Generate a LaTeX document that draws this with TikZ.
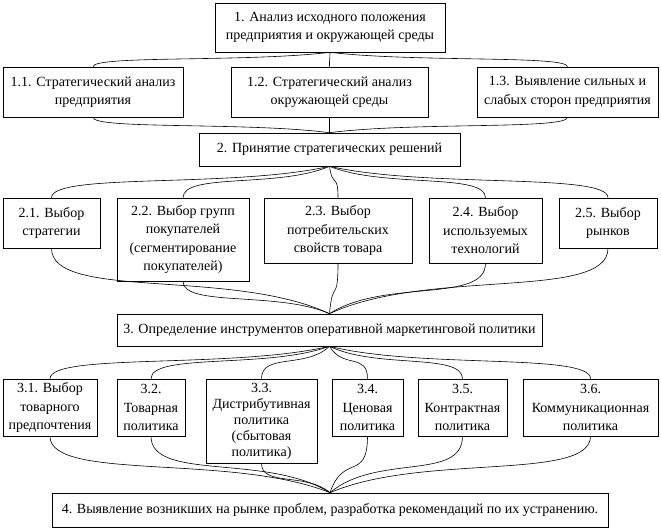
\documentclass[tikz,border=0pt]{standalone}
\usepackage{fontspec}
\setmainfont{Liberation Serif}
\usetikzlibrary{calc}
\tikzset{
  box/.style={draw, line width=0.6pt, align=center, inner sep=0pt,
    font=\fontsize{14}{18.5}\selectfont},
  tightbox/.style={draw, line width=0.6pt, align=center, inner sep=0pt,
    font=\fontsize{14}{16}\selectfont},
  conn/.style={draw, line width=0.6pt}
}
\newcommand\linkcurve[2]{%
  \draw[conn] let \p1=(#1), \p2=(#2) in (\p1) .. controls
    ({\x1+0.35*(\x2-\x1)},{\y1+0.7*(\y2-\y1)}) and
    ({\x2},{\y1+0.2*(\y2-\y1)}) .. (\p2);}
\begin{document}
\begin{tikzpicture}[x=1pt,y=-1pt]
\useasboundingbox (0,0) rectangle (661,530);
% level 1
\node[box, minimum width=230, minimum height=49] (b1) at (330,27.5)
  {1. Анализ исходного положения\\предприятия и окружающей среды};
\node[box, minimum width=180, minimum height=50] (b11) at (93,92)
  {1.1. Стратегический анализ\\предприятия};
\node[box, minimum width=197, minimum height=50] (b12) at (329.5,92)
  {1.2. Стратегический анализ\\окружающей среды};
\node[box, minimum width=181, minimum height=50] (b13) at (567.5,92)
  {1.3. Выявление сильных и\\слабых сторон предприятия};
% level 2
\node[box, minimum width=261, minimum height=33] (b2) at (329.5,149.5)
  {2. Принятие стратегических решений};
\node[box, minimum width=97, minimum height=50] (b21) at (51.5,223)
  {2.1. Выбор\\стратегии};
\node[box, minimum width=132, minimum height=83] (b22) at (183,239.5)
  {2.2. Выбор групп\\покупателей\\(сегментирование\\покупателей)};
\node[box, minimum width=148, minimum height=65] (b23) at (338,230.5)
  {2.3. Выбор\\потребительских\\свойств товара};
\node[box, minimum width=113, minimum height=65] (b24) at (485.5,230.5)
  {2.4. Выбор\\используемых\\технологий};
\node[box, minimum width=98, minimum height=50] (b25) at (608,223)
  {2.5. Выбор\\рынков};
% level 3
\node[box, minimum width=425, minimum height=32] (b3) at (329.5,330)
  {3. Определение инструментов оперативной маркетинговой политики};
\node[box, minimum width=94, minimum height=57] (b31) at (50,407.5)
  {3.1. Выбор\\товарного\\предпочтения};
\node[box, minimum width=68, minimum height=57] (b32) at (151,407.5)
  {3.2.\\Товарная\\политика};
\node[tightbox, minimum width=111, minimum height=84] (b33) at (261.5,421)
  {3.3.\\Дистрибутивная\\политика\\(сбытовая\\политика)};
\node[box, minimum width=71, minimum height=57] (b34) at (367.5,407.5)
  {3.4.\\Ценовая\\политика};
\node[box, minimum width=89, minimum height=57] (b35) at (462.5,407.5)
  {3.5.\\Контрактная\\политика};
\node[box, minimum width=135, minimum height=57] (b36) at (590.5,407.5)
  {3.6.\\Коммуникационная\\политика};
% level 4
\node[box, minimum width=556, minimum height=34] (b4) at (330,510)
  {4. Выявление возникших на рынке проблем, разработка рекомендаций по их устранению.};
% connectors
\foreach \t in {b11,b12,b13} {\linkcurve{b1.south}{\t.north}\linkcurve{b2.north}{\t.south}}
\foreach \t in {b21,b22,b23,b24,b25} {\linkcurve{b2.south}{\t.north}\linkcurve{b3.north}{\t.south}}
\foreach \t in {b31,b32,b33,b34,b35,b36} {\linkcurve{b3.south}{\t.north}\linkcurve{b4.north}{\t.south}}
\end{tikzpicture}
\end{document}
